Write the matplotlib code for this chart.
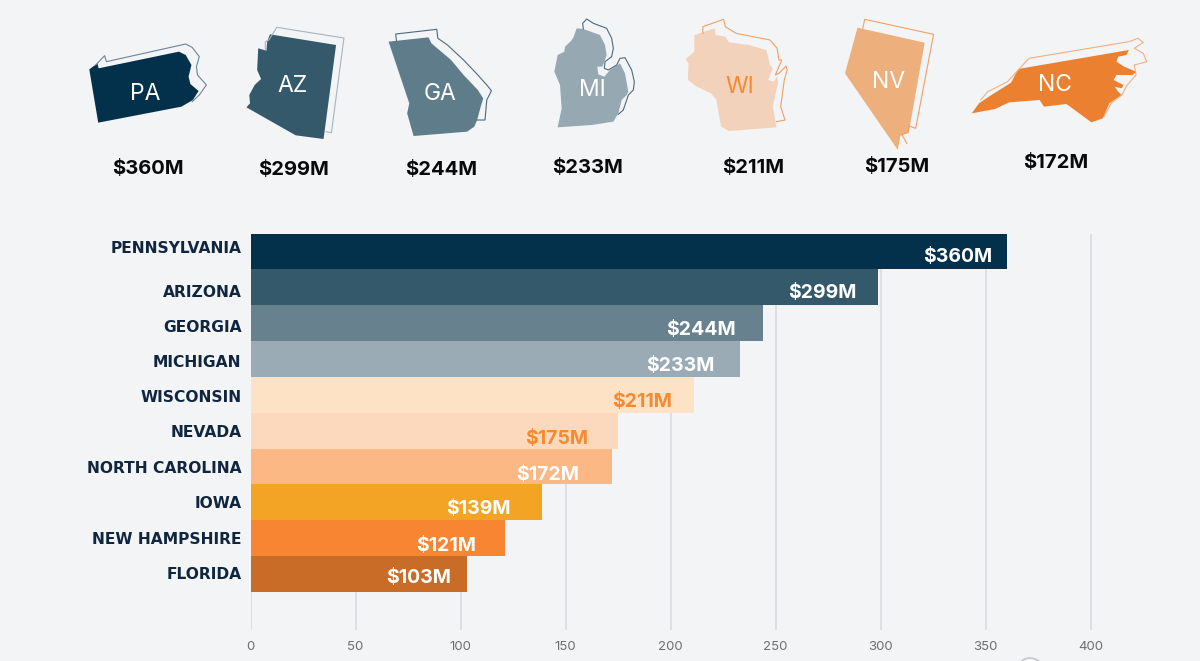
import matplotlib
matplotlib.use('Agg')
import matplotlib.pyplot as plt
from matplotlib.patches import Polygon, Arc

# chart data
states = ['PENNSYLVANIA', 'ARIZONA', 'GEORGIA', 'MICHIGAN', 'WISCONSIN', 'NEVADA',
          'NORTH CAROLINA', 'IOWA', 'NEW HAMPSHIRE', 'FLORIDA']
spending = [360, 299, 244, 233, 211, 175, 172, 139, 121, 103]
value_labels = ['$360M', '$299M', '$244M', '$233M', '$211M', '$175M', '$172M', '$139M', '$121M', '$103M']
x_ticks = [0, 50, 100, 150, 200, 250, 300, 350, 400]
icon_codes = ['PA', 'AZ', 'GA', 'MI', 'WI', 'NV', 'NC']
icon_values = ['$360M', '$299M', '$244M', '$233M', '$211M', '$175M', '$172M']

# styles
bar_colors = ['#03314b', '#34596b', '#67828e', '#9aabb5', '#fee2c5', '#fcd9bd',
              '#fbb784', '#f4a425', '#f78532', '#c96c28']
value_colors = ['white', 'white', 'white', 'white', '#f78a2e', '#f78a2e',
                'white', 'white', 'white', 'white']
value_dx = [-14, -22, -27, -25, -22, -30, -33, -32, -29, -16]
value_dy = [6, 6, 7, 7, 7, 8, 8, 7, 8, 4]
label_dy = [-3, 5, 4, 4, 3, 2, 2, 1, 1, 0]
BG = '#f3f4f6'
NAVY = '#10263f'

W, H = 1200, 661
plt.rcParams['font.family'] = ['Inter', 'DejaVu Sans']
fig = plt.figure(figsize=(W / 100, H / 100), dpi=100, facecolor=BG)

# bar chart, placed by pixels
left, right, top, bottom = 250.5, 1110, 233.5, 630
ax = fig.add_axes([left / W, 1 - bottom / H, (right - left) / W, (bottom - top) / H])
ax.set_facecolor('none')
ax.set_xlim(0, (right - left) / 2.1)
ax.set_ylim(-0.5 + (bottom - top) / 35.85, -0.5)
for s in ax.spines.values():
    s.set_visible(False)
ax.set_axisbelow(True)
ax.grid(axis='x', color='#d9dcdf', lw=1.2)
ax.set_xticks(x_ticks)
ax.tick_params(axis='x', length=0, pad=8, labelsize=9.5, labelcolor='#6e6e6e')
ax.set_yticks([])

ax.barh(range(len(states)), spending, height=1.0, color=bar_colors)
for i, name in enumerate(states):
    ax.annotate(name, (0, i), xytext=(-6.5, -label_dy[i] * 0.72), textcoords='offset points',
                ha='right', va='center', fontsize=11.2, fontweight='bold', color=NAVY,
                family='DejaVu Sans')
    ax.annotate(value_labels[i], (spending[i], i), xytext=(value_dx[i] * 0.72, -value_dy[i] * 0.72),
                textcoords='offset points', ha='right', va='center', fontsize=14,
                fontweight='bold', color=value_colors[i])

# overlay in pixel coordinates for the state icons
ov = fig.add_axes([0, 0, 1, 1], facecolor='none')
ov.set_xlim(0, W)
ov.set_ylim(H, 0)
ov.axis('off')


def crop(pts, ox, oy, sx):
    return [(ox + px / sx, oy + py / 3) for px, py in pts]


icons = [
    dict(fill=[(82, 178), (105, 160), (108, 175), (333, 125), (352, 135), (368, 165), (360, 200), (365, 222),
               (388, 243), (372, 270), (340, 290), (107, 338)],
         line=[(100, 165), (125, 137), (130, 155), (352, 102), (370, 112), (390, 140), (382, 170), (385, 195),
               (410, 225), (390, 255), (370, 275)],
         off=(60, 10, 2.8), color='#03314b', edge='#6d8595', text='white', pos=(145, 94), vpos=(148, 169)),
    dict(fill=[(588, 73), (773, 105), (738, 387), (660, 376), (522, 292), (532, 280), (530, 255), (545, 225),
               (563, 207), (552, 180), (555, 115), (578, 122), (580, 95)],
         line=[(575, 118), (575, 95), (585, 90), (607, 52), (795, 84), (760, 368), (745, 365)],
         off=(60, 10, 2.8), color='#34596b', edge='#a5b5bf', text='white', pos=(293, 86), vpos=(294, 170)),
    dict(fill=[(920, 95), (1032, 82), (1040, 100), (1095, 150), (1130, 195), (1170, 240), (1185, 265), (1178, 290),
               (1168, 330), (1160, 350), (1140, 365), (990, 378), (972, 310), (978, 280)],
         line=[(942, 92), (940, 72), (1055, 58), (1058, 85), (1085, 105), (1130, 150), (1170, 195), (1195, 225),
               (1208, 242), (1195, 270), (1190, 330), (1168, 330)],
         off=(60, 10, 2.8), color='#5f7c8b', edge='#50697a', text='white', pos=(440, 94), vpos=(441, 170)),
    dict(fill=[(95, 40), (115, 42), (165, 60), (180, 90), (185, 120), (178, 140), (172, 155), (157, 155), (160, 178),
               (178, 185), (195, 165), (225, 145), (240, 175), (250, 230), (245, 240), (230, 255), (220, 295),
               (205, 320), (140, 330), (38, 337), (50, 280), (45, 210), (28, 170), (38, 120), (58, 110), (60, 95),
               (78, 78), (85, 68)],
         line=[(115, 42), (113, 25), (125, 12), (145, 25), (185, 40), (200, 70), (205, 100), (200, 125), (180, 140),
               (178, 160), (190, 165), (215, 150), (225, 130), (240, 128), (260, 165), (268, 200), (265, 225),
               (250, 240), (235, 285), (220, 298)],
         off=(545, 15, 3), color='#96a9b3', edge='#4d6a7c', text='white', pos=(592, 90), vpos=(588, 168)),
    dict(fill=[(208, 75), (265, 55), (268, 75), (295, 80), (305, 97), (360, 105), (410, 120), (420, 165), (428, 175),
               (415, 210), (430, 215), (440, 200), (443, 215), (428, 290), (438, 352), (305, 363), (283, 350),
               (278, 320), (270, 270), (255, 250), (215, 230), (190, 210), (192, 160), (183, 148), (208, 125)],
         line=[(232, 70), (232, 50), (290, 28), (295, 50), (325, 70), (420, 90), (440, 115), (445, 150), (453, 150),
               (435, 195), (445, 190), (465, 168), (468, 180), (460, 210), (450, 290), (462, 330), (438, 335)],
         off=(620, 10, 2.8), color='#f2d2bb', edge='#f0a068', text='#f78a2e', pos=(740, 87), vpos=(753, 168)),
    dict(fill=[(665, 53), (853, 98), (808, 370), (795, 372), (785, 378), (778, 420), (630, 190)],
         line=[(680, 55), (685, 28), (878, 73), (828, 355), (810, 348), (806, 365), (790, 375), (803, 400)],
         off=(620, 10, 2.8), color='#edaf7c', edge='#f0a068', text='white', pos=(889, 82), vpos=(897, 167)),
    dict(fill=[(1115, 177), (1425, 120), (1418, 135), (1395, 140), (1390, 155), (1412, 170), (1445, 185), (1435, 195),
               (1390, 195), (1382, 210), (1410, 225), (1405, 235), (1385, 230), (1395, 245), (1405, 255), (1370, 280),
               (1352, 325), (1320, 337), (1250, 282), (1187, 290), (1175, 270), (1090, 277), (1050, 297), (985, 310),
               (1005, 280), (1040, 255), (1095, 218)],
         line=[(1010, 270), (1030, 245), (1085, 215), (1115, 180), (1145, 145), (1425, 95), (1450, 85), (1465, 97),
               (1440, 115), (1465, 130), (1475, 155), (1440, 165), (1445, 195), (1420, 225), (1405, 255), (1375, 280),
               (1355, 320)],
         off=(620, 10, 2.8), color='#ea8030', edge='#f0b080', text='white', pos=(1055, 85), vpos=(1056, 163)),
]

for code, val, ic in zip(icon_codes, icon_values, icons):
    ox, oy, sx = ic['off']
    ov.add_patch(Polygon(crop(ic['fill'], ox, oy, sx), closed=True, facecolor=ic['color'], edgecolor='none'))
    xs, ys = zip(*crop(ic['line'], ox, oy, sx))
    ov.plot(xs, ys, color=ic['edge'], lw=0.8)
    ov.text(ic['pos'][0], ic['pos'][1], code, ha='center', va='center', fontsize=16.5, color=ic['text'])
    ov.text(ic['vpos'][0], ic['vpos'][1], val, ha='center', va='center', fontsize=14.5,
            fontweight='bold', color='#0a0a0a')

# bit of a circle cut off by the bottom edge
ov.add_patch(Arc((1030, 671), 26, 26, theta1=180, theta2=360, color='#c4c8cc', lw=1.2))

fig.savefig('out.png', dpi=100, facecolor=BG)
